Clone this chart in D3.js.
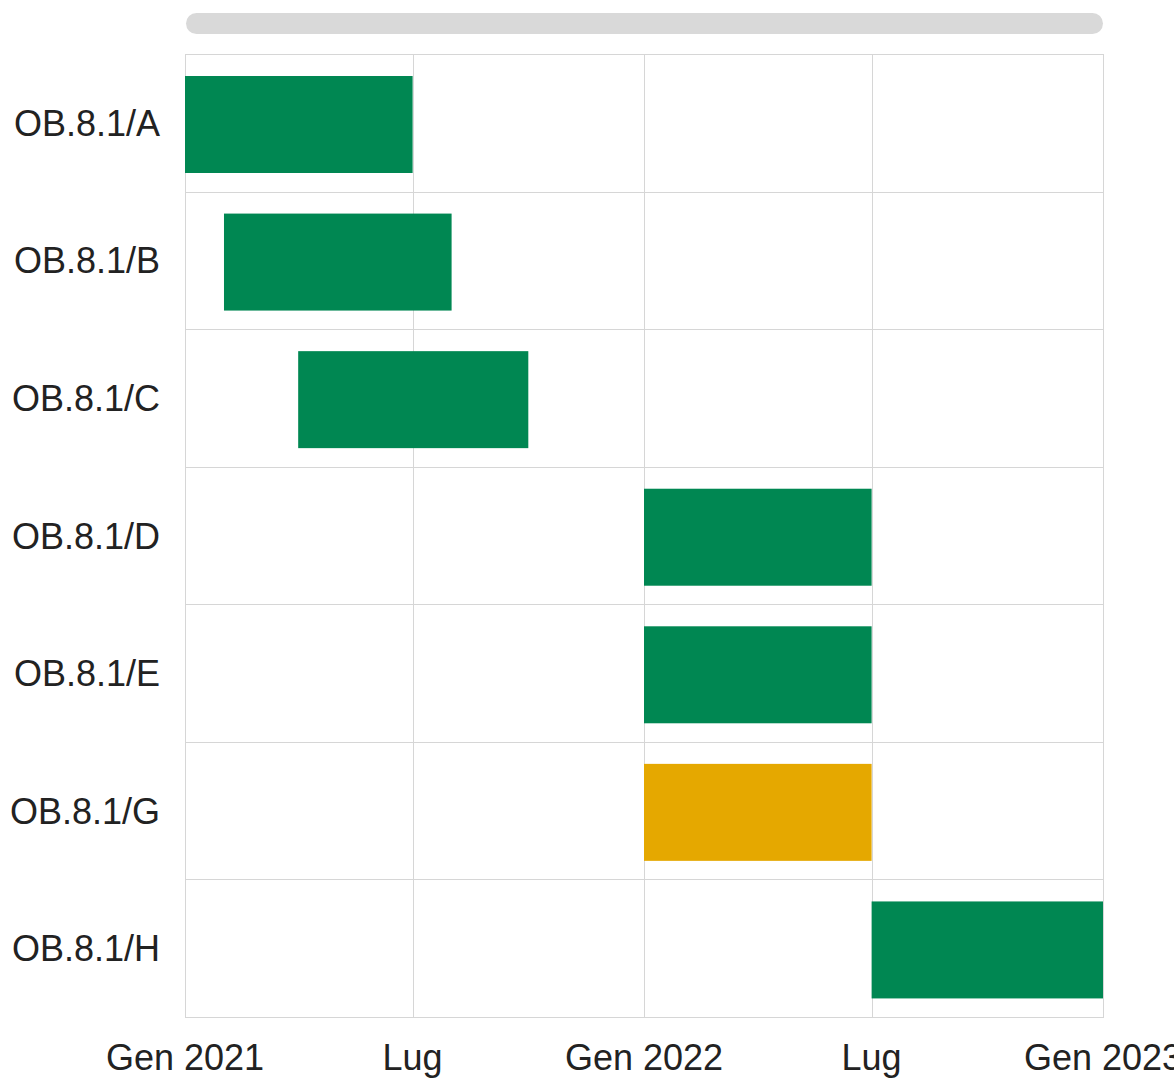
<!DOCTYPE html>
<html lang="it">
<head>
  <meta charset="UTF-8">
  <title>Cronoprogramma OB.8.1</title>
  <script src="https://d3js.org/d3.v7.min.js"></script>
  <style>
    html, body { margin: 0; padding: 0; background: #fff; overflow: hidden; }
    text { font-family: Arial, "Liberation Sans", sans-serif; fill: #222; }
  </style>
</head>
<body>
<script>
  // dati del cronoprogramma
  const tasks = ["OB.8.1/A", "OB.8.1/B", "OB.8.1/C", "OB.8.1/D", "OB.8.1/E", "OB.8.1/G", "OB.8.1/H"];
  const starts = ["2021-01-01", "2021-02-01", "2021-04-01", "2022-01-01", "2022-01-01", "2022-01-01", "2022-07-01"];
  const ends = ["2021-07-01", "2021-08-01", "2021-10-01", "2022-07-01", "2022-07-01", "2022-07-01", "2023-01-01"];
  const stato = ["ok", "ok", "ok", "ok", "ok", "warn", "ok"];
  const tickDates = ["2021-01-01", "2021-07-01", "2022-01-01", "2022-07-01", "2023-01-01"];
  const tickLabels = ["Gen 2021", "Lug", "Gen 2022", "Lug", "Gen 2023"];

  const W = 1174, H = 1079;
  const mLeft = 185, mRight = 1103, mTop = 54, mBottom = 1017;

  const parse = d3.utcParse("%Y-%m-%d");
  const colore = { ok: "#008752", warn: "#e5a800" };

  const svg = d3.select("body").append("svg")
    .attr("width", W)
    .attr("height", H);

  const x = d3.scaleUtc()
    .domain([parse(tickDates[0]), parse(tickDates[tickDates.length - 1])])
    .range([mLeft, mRight]);

  const y = d3.scaleBand()
    .domain(tasks)
    .range([mTop, mBottom]);

  // barra di scorrimento in alto
  svg.append("rect")
    .attr("x", mLeft + 1).attr("y", 13)
    .attr("width", mRight - mLeft - 1).attr("height", 21)
    .attr("rx", 10.5)
    .attr("fill", "#d9d9d9");

  // righe della griglia
  svg.append("g").selectAll("line")
    .data(tasks.slice(1))
    .join("line")
    .attr("x1", mLeft).attr("x2", mRight)
    .attr("y1", d => Math.round(y(d)) + 0.5)
    .attr("y2", d => Math.round(y(d)) + 0.5)
    .attr("stroke", "#d6d6d6");

  svg.append("g").selectAll("line")
    .data(tickDates)
    .join("line")
    .attr("x1", d => Math.round(x(parse(d))) + 0.5)
    .attr("x2", d => Math.round(x(parse(d))) + 0.5)
    .attr("y1", mTop).attr("y2", mBottom)
    .attr("stroke", "#d6d6d6");

  svg.append("rect")
    .attr("x", mLeft + 0.5).attr("y", mTop + 0.5)
    .attr("width", mRight - mLeft).attr("height", mBottom - mTop)
    .attr("fill", "none")
    .attr("stroke", "#d6d6d6");

  // barre
  const bw = y.bandwidth();
  svg.append("g").selectAll("rect")
    .data(tasks)
    .join("rect")
    .attr("x", (d, i) => x(parse(starts[i])))
    .attr("width", (d, i) => x(parse(ends[i])) - x(parse(starts[i])))
    .attr("y", d => y(d) + bw * 0.16)
    .attr("height", bw * 0.705)
    .attr("fill", (d, i) => colore[stato[i]]);

  // etichette delle attività
  svg.append("g").selectAll("text")
    .data(tasks)
    .join("text")
    .attr("x", mLeft - 25)
    .attr("y", d => y(d) + bw / 2 + 13)
    .attr("text-anchor", "end")
    .attr("font-size", 36)
    .text(d => d);

  // etichette asse x
  svg.append("g").selectAll("text")
    .data(tickDates)
    .join("text")
    .attr("x", d => x(parse(d)))
    .attr("y", 1070)
    .attr("text-anchor", "middle")
    .attr("font-size", 36)
    .text((d, i) => tickLabels[i]);
</script>
</body>
</html>
